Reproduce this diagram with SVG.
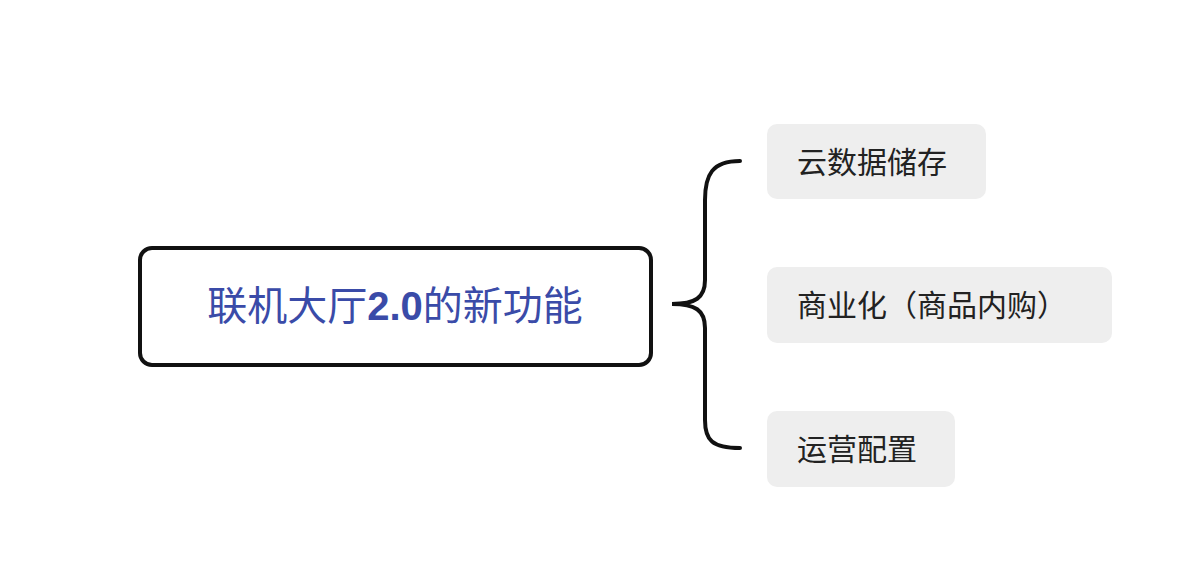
<svg xmlns="http://www.w3.org/2000/svg" width="1182" height="562" viewBox="0 0 1182 562">
<style>
.t{font-family:"Liberation Sans","Noto Sans CJK SC",sans-serif;dominant-baseline:central}
.c{fill:#eeeeee}
.ct{font-size:30px;fill:#222}
</style>
<rect width="1182" height="562" fill="#fff"/>
<g id="connectors">
<path d="M740,161 C712,161 705,175 705,200 L705,280 C705,298 695,304 672,304 C695,304 705,310 705,328 L705,420 C705,440 712,448 740,448" fill="none" stroke="#111" stroke-width="4" stroke-linecap="round"/>
</g>
<g id="root">
<rect x="140" y="248" width="511" height="117" rx="12" fill="#fff" stroke="#111" stroke-width="4"/>
<text class="t" x="395" y="306" text-anchor="middle" font-size="40" fill="#3a4ba8">联机大厅<tspan font-weight="bold">2.0</tspan>的新功能</text>
</g>
<g id="n1"><rect class="c" x="767" y="124" width="219" height="75" rx="10"/><text class="t ct" x="797" y="162">云数据储存</text></g>
<g id="n2"><rect class="c" x="767" y="267" width="345" height="76" rx="10"/><text class="t ct" x="797" y="305">商业化（商品内购）</text></g>
<g id="n3"><rect class="c" x="767" y="411" width="188" height="76" rx="10"/><text class="t ct" x="797" y="449">运营配置</text></g>
</svg>
